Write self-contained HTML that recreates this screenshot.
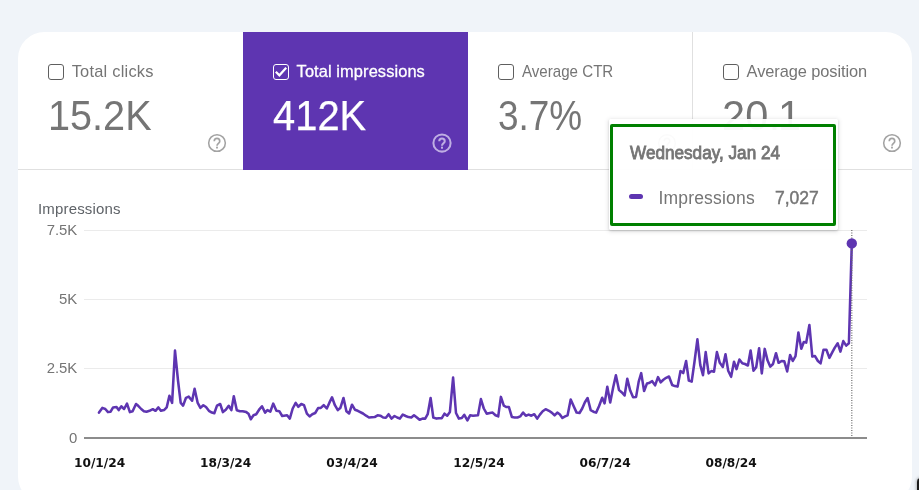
<!DOCTYPE html>
<html lang="en"><head><meta charset="utf-8"><title>Performance</title>
<style>
html,body{margin:0;padding:0}
body{width:919px;height:490px;overflow:hidden;position:relative;background:#f0f4f9;font-family:"Liberation Sans",Arial,sans-serif;color:#757575}
.card{position:absolute;left:18px;top:32px;width:894px;height:471px;background:#fff;border-radius:26.4px;overflow:hidden}
.tile{position:absolute;top:0;height:138px;width:225px}
.t2{background:#5e35b1}
.hline{position:absolute;left:0;top:137px;width:894px;height:1px;background:#e0e0e0}
.vline{position:absolute;left:674px;top:0;width:1px;height:138px;background:#e0e0e0}
.cb{position:absolute;box-sizing:border-box;width:16px;height:16px;border:1px solid #5f5f5f;border-radius:3px}
.t{position:absolute;white-space:nowrap;transform-origin:left top;line-height:1}
.lbl{font-size:16.4px;top:31.5px}
.num{font-size:43px;top:64px}
.help{position:absolute}
svg.chart{position:absolute;left:0;top:0}
.tip{position:absolute;left:609px;top:119px;width:229px;height:111px;background:rgba(255,255,255,.95);border-radius:2px;box-shadow:0 1px 2px 0 rgba(60,64,67,.2),0 1px 4px 1px rgba(60,64,67,.13)}
.tipb{position:absolute;left:610px;top:124px;width:220px;height:96px;border:3px solid #008000;border-radius:2px}
.corner{position:absolute;left:917px;top:477.5px;width:12px;height:24px;background:#1c1c1c;border-radius:4px 0 0 0;box-shadow:0 0 3px 1px rgba(0,0,0,.25)}
</style></head><body>
<div class="card">
  <div class="tile t1" style="left:0"></div>
  <div class="tile t2" style="left:225px"></div>
  <div class="tile t3" style="left:450px"></div>
  <div class="tile t4" style="left:675px"></div>
  <div class="hline"></div><div class="vline"></div>
  <div class="tile t2" style="left:225px;height:138px"></div>
</div>

<div class="cb" style="left:48px;top:64px"></div>
<span class="t lbl" id="l1" style="left:71.7px;top:62.8px;letter-spacing:.23px">Total clicks</span>
<span class="t num" id="n1" style="left:47.6px;top:93.7px;transform:scaleX(.922)">15.2K</span>
<svg class="help" style="left:206px;top:132.2px" width="22" height="22" viewBox="0 0 24 24"><circle cx="12" cy="12" r="9.1" fill="none" stroke="#a3a3a3" stroke-width="1.7"/><path d="M9 10a3 3 0 0 1 6 0c0 2.3-3 2.4-3 5" fill="none" stroke="#a3a3a3" stroke-width="1.8"/><rect x="11" y="16" width="2" height="2" fill="#a3a3a3"/></svg>

<div class="cb" style="left:273px;top:64px;border-color:#fff"></div>
<svg style="position:absolute;left:273px;top:64px" width="16" height="16" viewBox="0 0 16 16"><path d="M2.8 7.7L6.4 11.3L13.2 3.8" fill="none" stroke="#fff" stroke-width="2.2"/></svg>
<span class="t lbl" id="l2" style="left:296.6px;top:62.8px;color:#fff;-webkit-text-stroke:.3px #fff;letter-spacing:.1px">Total impressions</span>
<span class="t num" id="n2" style="left:273.3px;top:93.7px;color:#fff;-webkit-text-stroke:.25px #fff;transform:scaleX(.928)">412K</span>
<svg class="help" style="left:431.1px;top:132.3px" width="22" height="22" viewBox="0 0 24 24"><circle cx="12" cy="12" r="9.4" fill="none" stroke="#bfaee3" stroke-width="2.2"/><path d="M9 10a3 3 0 0 1 6 0c0 2.3-3 2.4-3 5" fill="none" stroke="#bfaee3" stroke-width="2.2"/><rect x="10.9" y="16" width="2.2" height="2.2" fill="#bfaee3"/></svg>

<div class="cb" style="left:498px;top:64px"></div>
<span class="t lbl" id="l3" style="left:522px;top:62.8px;transform:scaleX(.922)">Average CTR</span>
<span class="t num" id="n3" style="left:497.6px;top:93.7px;transform:scaleX(.859)">3.7%</span>

<svg class="help" style="left:656px;top:132.2px" width="22" height="22" viewBox="0 0 24 24"><circle cx="12" cy="12" r="9.1" fill="none" stroke="#a3a3a3" stroke-width="1.7"/><path d="M9 10a3 3 0 0 1 6 0c0 2.3-3 2.4-3 5" fill="none" stroke="#a3a3a3" stroke-width="1.8"/><rect x="11" y="16" width="2" height="2" fill="#a3a3a3"/></svg>
<div class="cb" style="left:723px;top:64px"></div>
<span class="t lbl" id="l4" style="left:746.6px;top:62.8px;letter-spacing:-.08px">Average position</span>
<span class="t num" id="n4" style="left:722.2px;top:93.7px;letter-spacing:.25px;transform:scaleX(.965)">20.<span style="margin-left:-2.6px">1</span></span>
<svg class="help" style="left:881.05px;top:132.1px" width="22" height="22" viewBox="0 0 24 24"><circle cx="12" cy="12" r="9.1" fill="none" stroke="#a3a3a3" stroke-width="1.7"/><path d="M9 10a3 3 0 0 1 6 0c0 2.3-3 2.4-3 5" fill="none" stroke="#a3a3a3" stroke-width="1.8"/><rect x="11" y="16" width="2" height="2" fill="#a3a3a3"/></svg>

<span class="t" id="ax" style="left:38px;top:200.5px;font-size:15px;color:#5f6368;letter-spacing:.17px">Impressions</span>

<svg class="chart" width="919" height="490" viewBox="0 0 919 490">
  <g stroke="#ebebeb" stroke-width="1">
    <line x1="84" x2="867" y1="230.5" y2="230.5"/>
    <line x1="84" x2="867" y1="299.5" y2="299.5"/>
    <line x1="84" x2="867" y1="368.5" y2="368.5"/>
  </g>
  <line x1="84" x2="867" y1="438" y2="438" stroke="#8c8c8c" stroke-width="2"/>
  <g font-family="Liberation Sans, Arial, sans-serif" font-size="14.9" fill="#757575" text-anchor="end">
    <text x="77.3" y="234.8">7.5K</text>
    <text x="77.3" y="303.9">5K</text>
    <text x="77.3" y="373">2.5K</text>
    <text x="77.3" y="442.8">0</text>
  </g>
  <path d="M99.0 412.6 L102.3 407.9 L105.3 409.0 L108.0 412.1 L110.6 411.7 L113.1 407.4 L116.5 407.0 L118.7 410.1 L121.4 406.3 L124.1 409.0 L127.0 403.6 L129.9 412.1 L132.6 411.2 L136.0 404.0 L138.2 405.8 L141.2 409.0 L143.9 411.2 L146.5 411.7 L149.5 410.8 L152.8 409.2 L155.5 410.8 L158.4 407.4 L160.9 410.8 L164.0 410.1 L166.7 407.4 L169.4 395.7 L172.1 402.9 L175.0 350.6 L178.0 380.5 L180.7 402.9 L183.1 405.6 L186.0 397.8 L188.7 396.6 L192.1 400.7 L194.6 388.8 L197.7 402.9 L200.4 407.9 L203.3 405.2 L206.0 407.0 L208.9 410.8 L211.9 412.6 L214.3 413.2 L217.0 405.6 L220.2 404.0 L222.9 412.1 L225.8 409.7 L228.7 405.8 L231.4 410.1 L233.8 396.2 L236.8 410.3 L239.9 411.2 L242.6 411.2 L246.3 412.1 L248.5 413.7 L250.8 419.3 L253.5 415.3 L256.2 414.2 L259.1 409.7 L262.0 406.3 L265.1 412.6 L267.4 410.1 L270.3 411.7 L273.2 403.6 L276.4 410.8 L279.3 411.2 L282.2 416.0 L287.1 415.3 L289.8 418.6 L292.7 408.5 L295.7 402.9 L298.3 406.8 L301.3 404.0 L304.0 405.2 L306.9 413.7 L309.6 416.4 L312.3 414.2 L315.2 413.0 L318.1 408.1 L320.8 407.9 L323.7 405.2 L326.8 408.5 L329.3 402.9 L332.0 397.3 L334.9 405.2 L337.8 410.1 L340.3 408.1 L343.5 398.0 L346.4 411.2 L349.1 413.5 L352.0 404.7 L354.9 409.7 L357.8 410.8 L363.0 413.5 L366.1 415.7 L369.0 417.5 L374.6 417.1 L377.6 415.3 L380.3 415.7 L383.2 417.5 L385.9 417.7 L388.6 414.2 L391.5 418.6 L394.5 416.0 L397.2 417.5 L399.9 418.6 L402.8 414.6 L405.7 416.0 L408.4 417.1 L411.3 417.5 L414.0 415.3 L416.9 417.5 L419.6 419.8 L422.5 418.6 L425.2 418.6 L427.7 414.2 L430.6 398.0 L433.3 417.5 L436.5 418.6 L438.9 418.2 L441.8 418.2 L444.5 413.7 L447.2 415.7 L449.9 411.9 L453.1 377.6 L456.0 413.0 L458.9 418.6 L461.8 418.0 L464.3 414.8 L467.4 420.4 L470.1 415.3 L473.0 415.7 L478.0 415.3 L480.9 399.1 L483.8 408.5 L486.7 413.7 L489.9 413.0 L492.6 412.6 L495.5 415.3 L498.2 416.4 L500.9 396.9 L503.8 405.6 L506.2 407.0 L508.9 407.0 L511.9 417.1 L514.6 417.5 L517.5 417.5 L520.2 416.4 L523.1 412.6 L525.8 415.7 L528.7 414.6 L531.4 415.7 L534.3 414.2 L537.2 418.6 L539.9 414.6 L542.7 411.2 L545.6 409.2 L549.0 410.8 L551.7 412.6 L554.6 415.3 L557.3 412.6 L559.7 414.2 L562.4 418.0 L565.1 416.4 L567.6 415.3 L570.7 399.6 L573.7 406.3 L576.6 412.6 L579.5 413.0 L582.2 408.5 L584.9 402.3 L587.6 398.0 L590.7 410.1 L593.4 411.7 L596.1 412.6 L599.0 406.3 L602.2 397.8 L604.6 403.4 L607.3 386.8 L610.2 402.5 L613.2 387.2 L615.9 375.3 L619.0 390.1 L621.9 392.4 L624.6 395.5 L627.3 378.7 L630.2 390.6 L633.1 397.3 L636.1 396.9 L638.7 381.6 L641.2 373.1 L644.1 391.0 L647.0 383.4 L649.7 382.7 L652.2 381.2 L655.1 385.4 L658.0 377.1 L660.7 382.3 L663.4 379.8 L666.1 377.8 L669.0 376.5 L672.2 385.0 L674.9 386.1 L677.6 386.6 L680.5 371.1 L683.2 373.1 L686.1 361.0 L688.8 380.5 L691.7 381.6 L694.5 361.7 L697.4 339.3 L700.3 365.1 L703.0 375.2 L705.7 352.1 L708.6 373.4 L711.3 371.1 L714.0 371.8 L716.9 352.1 L719.8 362.8 L722.8 366.9 L725.5 354.3 L728.2 370.7 L731.1 376.8 L734.0 361.7 L736.5 369.1 L739.4 359.5 L742.3 363.3 L745.0 364.0 L747.9 365.5 L750.6 350.5 L753.5 370.7 L756.2 367.3 L759.1 348.2 L761.8 373.4 L764.7 348.9 L767.6 360.6 L770.3 366.7 L773.0 364.0 L776.0 353.2 L778.6 362.8 L781.6 361.0 L784.3 361.3 L787.2 371.4 L790.1 355.0 L792.8 361.0 L795.5 356.1 L798.4 332.5 L801.3 348.7 L803.8 342.0 L806.2 342.6 L809.4 325.1 L812.3 356.6 L815.0 356.1 L817.9 361.0 L820.6 363.3 L823.5 349.8 L826.4 349.8 L829.4 357.9 L832.1 352.7 L834.8 347.6 L837.7 343.3 L840.4 351.6 L843.3 341.1 L846.2 345.6 L848.9 343.3 L851.8 243.4" fill="none" stroke="#5e35b1" stroke-width="2.55" stroke-linejoin="round" stroke-linecap="round"/>
  <line x1="851.8" x2="851.8" y1="230" y2="437" stroke="#6a6a6a" stroke-width="1.2" stroke-dasharray="1 1.5"/>
  <circle cx="851.8" cy="243.4" r="5.2" fill="#5e35b1"/>
  <g font-family="DejaVu Sans, Liberation Sans, sans-serif" font-weight="bold" font-size="12.2" fill="#111" text-anchor="middle">
    <text x="99.6" y="467.3">10/1/24</text>
    <text x="225.7" y="467.3">18/3/24</text>
    <text x="352" y="467.3">03/4/24</text>
    <text x="479" y="467.3">12/5/24</text>
    <text x="605.1" y="467.3">06/7/24</text>
    <text x="731.1" y="467.3">08/8/24</text>
  </g>
</svg>

<div class="tip"></div>
<div class="tipb"></div>
<span class="t" id="td" style="left:629.6px;top:145.1px;font-size:17.5px;-webkit-text-stroke:.8px #757575;transform:scaleX(.98)">Wednesday, Jan 24</span>
<div style="position:absolute;left:629px;top:194.4px;width:14px;height:5px;border-radius:2.5px;background:#5e35b1"></div>
<span class="t" id="ti" style="left:658.4px;top:189.6px;font-size:17.5px;letter-spacing:.2px">Impressions</span>
<span class="t" id="tv" style="left:775px;top:189.6px;font-size:17.5px;-webkit-text-stroke:.45px #757575">7,027</span>

<div class="corner"></div>
</body></html>
